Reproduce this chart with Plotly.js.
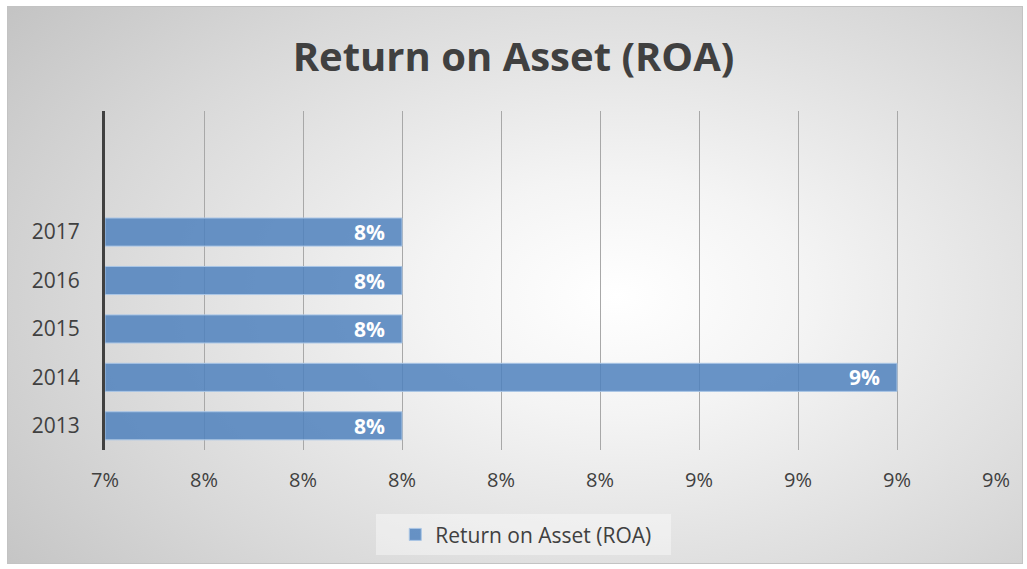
<!DOCTYPE html>
<html>
<head>
<meta charset="utf-8">
<script src="https://cdn.plot.ly/plotly-3.0.1.min.js"></script>
<style>
  html, body { margin: 0; padding: 0; background: #ffffff; width: 1027px; height: 569px; overflow: hidden; }
  #bg { position: absolute; left: 7px; top: 6px; width: 1014px; height: 556px;
        border: 1px solid #c3c3c3;
        background: radial-gradient(ellipse 75% 85% at 60% 52%, #ffffff 0%, #f4f4f4 25%, #d8d8d8 70%, #c4c4c4 100%); }
  #chart { position: absolute; left: 0; top: 0; width: 1027px; height: 569px; }
</style>
</head>
<body>
<div id="bg"></div>
<div id="chart"></div>
<script>
const years = ['2013', '2014', '2015', '2016', '2017'];
const roa = [0.080, 0.090, 0.080, 0.080, 0.080];
const barLabels = ['8%', '9%', '8%', '8%', '8%'];
const xTickVals = [0.074, 0.076, 0.078, 0.080, 0.082, 0.084, 0.086, 0.088, 0.090, 0.092];
const xTickText = ['7%', '8%', '8%', '8%', '8%', '8%', '9%', '9%', '9%', '9%'];
const seriesName = 'Return on Asset (ROA)';

const axisMin = xTickVals[0];

const trace = {
  type: 'bar',
  orientation: 'h',
  x: roa.map(v => v - axisMin),
  y: years,
  base: axisMin,
  name: seriesName,
  width: 0.58,
  marker: { color: 'rgba(79,129,189,0.85)', line: { color: 'rgba(170,198,230,1)', width: 1 } },
  hoverinfo: 'skip',
  showlegend: true
};

const annotations = roa.map((v, i) => ({
  x: v, y: i, xref: 'x', yref: 'y',
  text: '<b>' + barLabels[i] + '</b>',
  xanchor: 'right', yanchor: 'middle', xshift: -15,
  showarrow: false,
  font: { family: 'Open Sans', size: 21, color: '#ffffff' }
}));

const layout = {
  width: 1027, height: 569,
  paper_bgcolor: 'rgba(0,0,0,0)',
  plot_bgcolor: 'rgba(0,0,0,0)',
  margin: { l: 104.5, r: 31.3, t: 110.5, b: 119, pad: 0 },
  title: {
    text: '<b>' + seriesName + '</b>',
    x: 0.5, xref: 'container', xanchor: 'center',
    y: 0.9, yref: 'container', yanchor: 'middle',
    font: { family: 'Open Sans', size: 40, color: '#404040' }
  },
  font: { family: 'Open Sans', color: '#404040' },
  xaxis: {
    range: [xTickVals[0], xTickVals[xTickVals.length - 1]],
    tickmode: 'array', tickvals: xTickVals, ticktext: xTickText,
    showgrid: true, gridcolor: '#a8a8a8', gridwidth: 1,
    zeroline: false, showline: false, ticks: '',
    tickfont: { family: 'Open Sans', size: 20, color: '#404040' },
    ticklabelstandoff: 16
  },
  yaxis: {
    type: 'category',
    categoryorder: 'array', categoryarray: years,
    range: [-0.5, 6.5],
    showgrid: false, zeroline: false,
    showline: true, linecolor: '#404040', linewidth: 3,
    ticks: '',
    tickfont: { family: 'Open Sans', size: 21, color: '#404040' },
    ticklabelstandoff: 18
  },
  showlegend: true,
  legend: {
    orientation: 'h',
    x: 0.47, xanchor: 'center', xref: 'paper',
    y: -0.25, yanchor: 'middle', yref: 'paper',
    bgcolor: 'rgba(255,255,255,0.4)',
    borderwidth: 0,
    indentation: 19,
    font: { family: 'Open Sans', size: 21, color: '#404040' },
    entrywidth: 231, entrywidthmode: 'pixels'
  },
  annotations: annotations
};

Plotly.newPlot('chart', [trace], layout, { displayModeBar: false, staticPlot: true });
</script>
</body>
</html>
